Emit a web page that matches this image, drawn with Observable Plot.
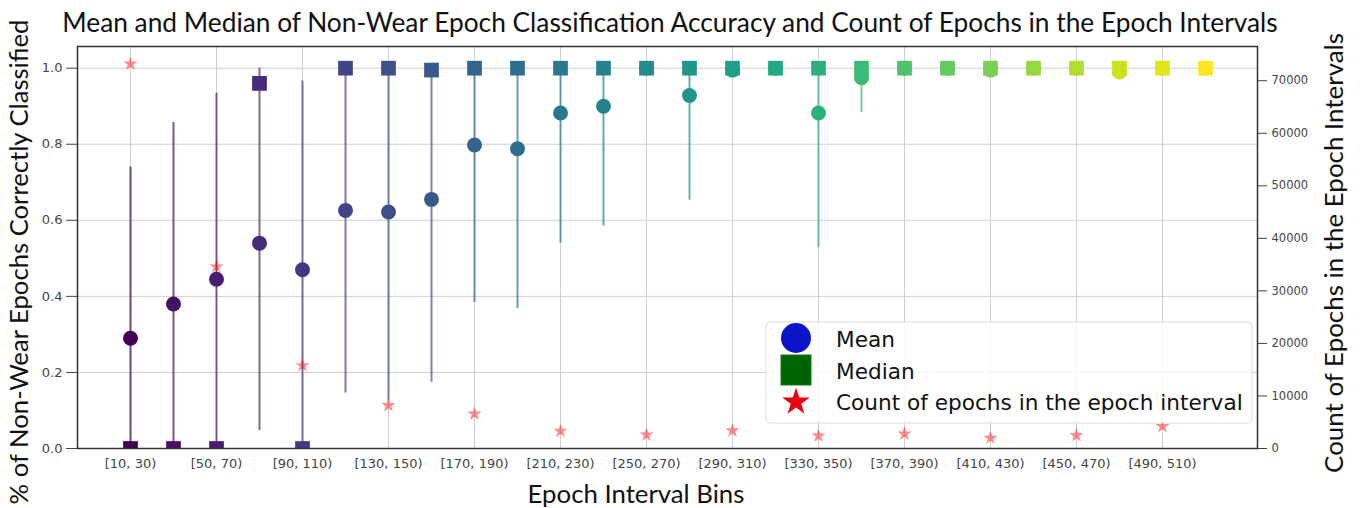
<!DOCTYPE html>
<html><head><meta charset="utf-8">
<script src="https://cdn.jsdelivr.net/npm/d3@7"></script>
<script src="https://cdn.jsdelivr.net/npm/@observablehq/plot@0.6"></script>
<style>body{margin:0;background:#fff} #chart{width:1360px;height:508px}</style>
</head><body><div id="chart"></div>
<script>
const bins = ["[10, 30)","[30, 50)","[50, 70)","[70, 90)","[90, 110)","[110, 130)","[130, 150)","[150, 170)","[170, 190)","[190, 210)","[210, 230)","[230, 250)","[250, 270)","[270, 290)","[290, 310)","[310, 330)","[330, 350)","[350, 370)","[370, 390)","[390, 410)","[410, 430)","[430, 450)","[450, 470)","[470, 490)","[490, 510)","[510, 530)"];
const meanAcc = [0.29,0.38,0.445,0.54,0.47,0.626,0.622,0.655,0.798,0.788,0.882,0.90,1.0,0.928,0.995,1.0,0.882,0.975,1.0,1.0,0.995,1.0,1.0,0.99,1.0,1.0];
const medianAcc = [0,0,0,0.96,0,1,1,0.995,1,1,1,1,1,1,1,1,1,1,1,1,1,1,1,1,1,1];
const errLow = [0,0,0,0.047,0,0.146,0.125,0.174,0.384,0.368,0.54,0.585,null,0.653,null,null,0.528,0.883,null,null,null,null,null,null,null,null];
const errHigh = [0.74,0.857,0.934,1.0,0.966,1.0,1.0,1.0,1.0,1.0,1.0,1.0,null,1.0,null,null,1.0,1.0,null,null,null,null,null,null,null,null];
const counts = [73200,null,34600,null,15800,null,8200,null,6600,null,3300,null,2600,null,3400,null,2400,null,2800,null,2000,null,2500,null,4200,null];
const accTicks = [0,0.2,0.4,0.6,0.8,1.0];
const countTicks = [0,10000,20000,30000,40000,50000,60000,70000];
const tickBins = bins.filter((_, i) => i % 2 === 0);

const titleText = "Mean and Median of Non-Wear Epoch Classification Accuracy and Count of Epochs in the Epoch Intervals";
const yLabel = "% of Non-Wear Epochs Correctly Classified";
const y2Label = "Count of Epochs in the Epoch Intervals";
const xLabel = "Epoch Interval Bins";
const legendLabels = ["Mean","Median","Count of epochs in the epoch interval"];

const yMax = 1.057;
const k = 0.967 / 70000; // count -> left-axis units (twin axis)

const data = bins.map((b, i) => ({bin: b, mean: meanAcc[i], median: medianAcc[i], lo: errLow[i], hi: errHigh[i], count: counts[i]}));
const colors = bins.map((_, i) => d3.interpolateViridis(i / (bins.length - 1)));

const chart = Plot.plot({
  width: 1360, height: 508,
  marginLeft: 77, marginRight: 103, marginTop: 46, marginBottom: 60,
  style: {fontFamily: "DejaVu Sans", fontSize: "13px", color: "#444", background: "#fff"},
  x: {type: "point", domain: bins, padding: 1.18, align: 0.5},
  y: {domain: [0, yMax]},
  color: {type: "ordinal", domain: bins, range: colors},
  marks: [
    Plot.gridX(tickBins, {stroke: "#cfcfcf", strokeOpacity: 1, strokeWidth: 1}),
    Plot.gridY(accTicks, {stroke: "#cfcfcf", strokeOpacity: 1, strokeWidth: 1}),
    Plot.ruleX(data.filter(d => d.lo != null), {x: "bin", y1: "lo", y2: "hi", stroke: "bin", strokeWidth: 2, strokeOpacity: 0.7, clip: true}),
    Plot.dot(data, {x: "bin", y: "mean", r: 7.5, fill: "bin", symbol: "circle", clip: true}),
    Plot.dot(data, {x: "bin", y: "median", r: 8.3, fill: "bin", symbol: "square", clip: true}),
    Plot.dot(data.filter(d => d.count != null), {x: "bin", y: d => d.count * k, symbol: "star", r: 4.5, fill: "red", fillOpacity: 0.45}),
    Plot.axisX({ticks: tickBins, tickSize: 0, tickPadding: 10, label: null}),
    Plot.axisY({ticks: accTicks, tickFormat: d3.format(".1f"), tickSize: 11, tickPadding: 4, label: null}),
    Plot.axisY({anchor: "right", ticks: countTicks.map(c => c * k), tickFormat: v => String(Math.round(v / k / 10000) * 10000), tickSize: 9, tickPadding: 5, fontSize: 11.5, label: null}),
    Plot.frame({stroke: "#333", strokeWidth: 1.5})
  ]
});
document.getElementById("chart").appendChild(chart);

const svg = d3.select(chart);
function fit(sel, target) {
  const len = sel.node().getComputedTextLength();
  const fs = parseFloat(sel.attr("font-size"));
  sel.attr("font-size", fs * target / len);
  return fs * target / len;
}
const labelFont = "Lato, 'Open Sans', sans-serif";
const t = svg.append("text").attr("x", 670).attr("y", 32).attr("text-anchor", "middle")
  .attr("font-family", labelFont).attr("font-size", 24).attr("fill", "#111").text(titleText);
fit(t, 1216);
const xl = svg.append("text").attr("x", 636).attr("y", 503).attr("text-anchor", "middle")
  .attr("font-family", labelFont).attr("font-size", 24).attr("fill", "#111").text(xLabel);
fit(xl, 217);
const yl = svg.append("text").attr("transform", "translate(28,262) rotate(-90)").attr("text-anchor", "middle")
  .attr("font-family", labelFont).attr("font-size", 24).attr("fill", "#111").text(yLabel);
fit(yl, 485);
const y2 = svg.append("text").attr("transform", "translate(1343,253) rotate(-90)").attr("text-anchor", "middle")
  .attr("font-family", labelFont).attr("font-size", 24).attr("fill", "#111").text(y2Label);
fit(y2, 440);

// legend
const lg = svg.append("g");
lg.append("rect").attr("x", 766).attr("y", 322).attr("width", 486).attr("height", 101).attr("rx", 4)
  .attr("fill", "#fff").attr("fill-opacity", 0.85).attr("stroke", "#ddd");
lg.append("circle").attr("cx", 796).attr("cy", 338).attr("r", 15).attr("fill", "#0a14c8");
lg.append("rect").attr("x", 781).attr("y", 355).attr("width", 30).attr("height", 30).attr("fill", "#006400").attr("stroke", "#1a7a1a");
lg.append("path").attr("transform", "translate(796,402)").attr("d", d3.symbol(d3.symbolStar, 236)()).attr("fill", "#ee0010");
const texts = legendLabels.map((s, i) =>
  lg.append("text").attr("x", 836).attr("y", [339, 371, 402][i]).attr("dy", "0.35em").attr("text-anchor", "start")
    .attr("font-family", "DejaVu Sans").attr("font-size", 18.5).attr("fill", "#111").text(s));
const lfs = fit(texts[2], 407);
texts.forEach(tx => tx.attr("font-size", lfs));
</script></body></html>
